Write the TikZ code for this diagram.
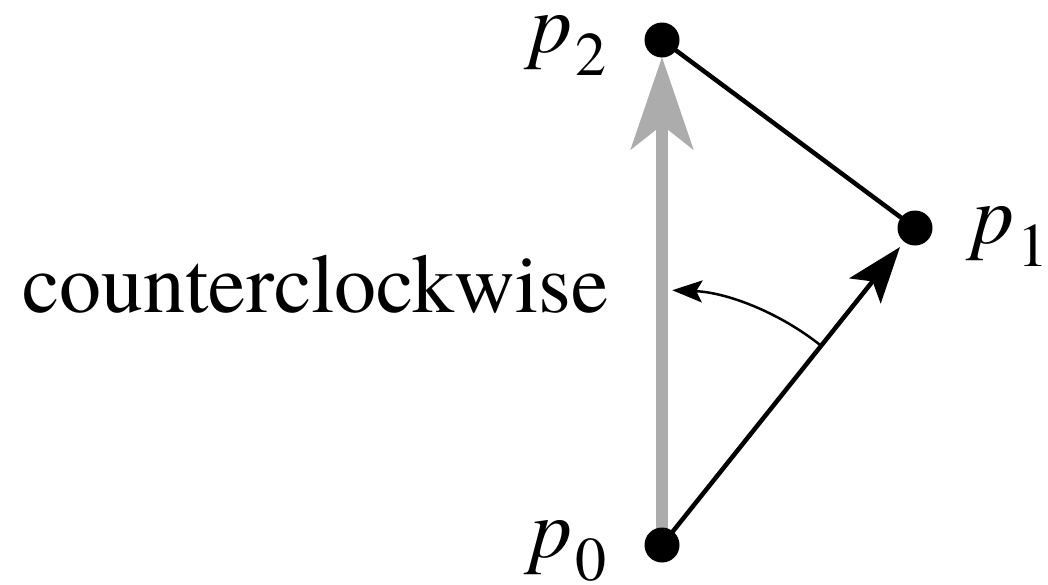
\documentclass[tikz,border=0pt]{standalone}
\usepackage{fontspec}
\setmainfont{texgyretermes}[Extension=.otf, UprightFont=*-regular, ItalicFont=*-italic, BoldFont=*-bold]
\usetikzlibrary{arrows.meta,calc}
\tikzset{
  dot/.style={circle, fill=black, inner sep=0pt, minimum size=35pt},
  grayarrow/.style={draw=grayc, line width=12pt, -{Stealth[length=92pt,width=62pt,inset=24pt]}},
  blackarrow/.style={draw=black, line width=4.5pt, -{Stealth[length=56pt,width=40pt,inset=12pt]}},
  edge/.style={draw=black, line width=4.5pt},
  turn/.style={draw=black, line width=2.5pt, -{Stealth[length=30pt,width=22pt,inset=6pt]}},
  lbl/.style={inner sep=0pt, anchor=base west, font=\fontsize{84}{100}\selectfont},
}
\definecolor{grayc}{RGB}{172,172,172}
\newcommand{\subs}[1]{\raisebox{-23pt}{\fontsize{62}{62}\selectfont #1}}
\begin{document}
\begin{tikzpicture}[x=1pt,y=-1pt]
\useasboundingbox (0,0) rectangle (1048,584);
\coordinate (c0) at (662,545);
\coordinate (c1) at (915,228);
\coordinate (c2) at (662,40);
% arrows first, dots on top
\path[grayarrow] (c0) -- ($(c2)+(0,17)$);
\path[edge] (c2) -- (c1);
\path[blackarrow] (c0) -- ($(c1)+(-15,19)$);
\coordinate (t0) at ($(c0)+(-51.6:255)$);
\draw[turn] (t0) arc[start angle=-51.6, end angle=-87.7, radius=255] coordinate (t1);
\node[dot] (p0) at (c0) {};
\node[dot] (p1) at (c1) {};
\node[dot] (p2) at (c2) {};
\node[lbl] (l2) at (530,52) {\textit{p}\kern3pt\subs{2}};
\node[lbl] (l1) at (972,243) {\textit{p}\kern3pt\subs{1}};
\node[lbl] (l0) at (530,557) {\textit{p}\kern3pt\subs{0}};
\node[lbl] (ccw) at (22,312) {counterclockwise};
\end{tikzpicture}
\end{document}
